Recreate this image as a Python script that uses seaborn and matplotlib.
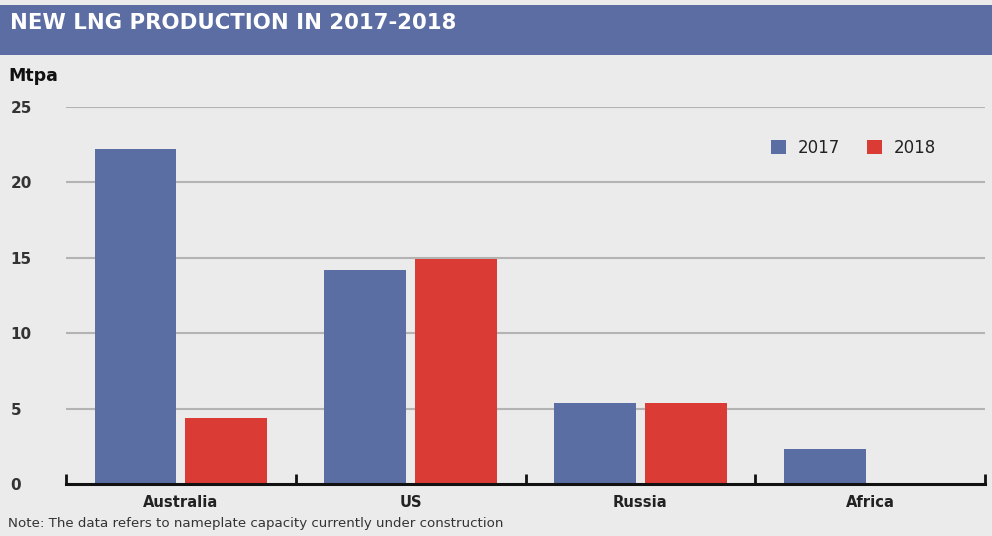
import numpy as np
import pandas as pd
import matplotlib
matplotlib.use("Agg")
import matplotlib.pyplot as plt
import seaborn as sns
from matplotlib.patches import Rectangle

# chart values
regions = ["Australia", "US", "Russia", "Africa"]
years = ["2017", "2018"]
mtpa_2017 = [22.2, 14.2, 5.4, 2.3]
mtpa_2018 = [4.4, 14.9, 5.4, np.nan]
y_ticks = [0, 5, 10, 15, 20, 25]

title = "NEW LNG PRODUCTION IN 2017-2018"
unit = "Mtpa"
note = "Note: The data refers to nameplate capacity currently under construction"

BG = "#ebebeb"
BLUE = "#5a6ea3"
RED = "#db3b35"
BAND = "#5b6da3"
INK = "#222222"

df = pd.DataFrame({
    "region": regions * 2,
    "year": [years[0]] * len(regions) + [years[1]] * len(regions),
    "value": mtpa_2017 + mtpa_2018,
})

sns.set_theme(style="white")
plt.rcParams["font.family"] = ["DejaVu Sans"]

fig = plt.figure(figsize=(9.92, 5.36), dpi=100, facecolor=BG)
ax = fig.add_axes([66 / 992, 1 - 484 / 536, (985 - 66) / 992, (484 - 107) / 536])
ax.set_facecolor(BG)

# title band
fig.add_artist(Rectangle((0, 1 - 55 / 536), 1, 50 / 536, transform=fig.transFigure,
                         facecolor=BAND, edgecolor="none"))
fig.text(10 / 992, 1 - 23 / 536, title, color="white", fontsize=15.3,
         fontweight="heavy", va="center", ha="left")
fig.text(8 / 992, 1 - 76 / 536, unit, color="#111111", fontsize=12.5,
         fontweight="bold", va="center", ha="left")
fig.text(8 / 992, 1 - 524 / 536, note, color="#333333", fontsize=9.6,
         va="center", ha="left")

for y in y_ticks[1:]:
    ax.axhline(y, color="#b3b3b3", lw=1.5, zorder=0)

sns.barplot(data=df, x="region", y="value", hue="year", order=regions,
            hue_order=years, palette=[BLUE, RED], width=0.79, gap=0.1,
            saturation=1, linewidth=0, edgecolor="none", ax=ax, zorder=2)

ax.set_xlim(-0.5, len(regions) - 0.5)
ax.set_ylim(0, 25)
ax.set_xlabel("")
ax.set_ylabel("")

for s in ["top", "right", "left"]:
    ax.spines[s].set_visible(False)
ax.spines["bottom"].set_color("#111111")
ax.spines["bottom"].set_linewidth(2.2)
ax.spines["bottom"].set_zorder(3)

ax.set_yticks(y_ticks)
ax.set_yticklabels([str(t) for t in y_ticks], fontsize=11, fontweight="bold",
                   color="#333333")
for lab in ax.get_yticklabels():
    lab.set_horizontalalignment("left")
ax.tick_params(axis="y", left=False, length=0, pad=40)

ax.set_xticks(range(len(regions)))
ax.set_xticklabels(regions, fontsize=10.6, fontweight="bold", color=INK)
ax.set_xticks(np.arange(-0.5, len(regions)), minor=True)
ax.tick_params(axis="x", which="major", bottom=False, length=0, pad=8)
ax.tick_params(axis="x", which="minor", bottom=True, direction="in", length=7,
               width=2, color="#111111")

leg = ax.legend(loc="upper right", bbox_to_anchor=(0.963, 0.955), ncol=2,
                frameon=False, fontsize=12, handlelength=0.9, handleheight=0.9,
                handletextpad=0.7, columnspacing=1.6)
for t in leg.get_texts():
    t.set_color(INK)

fig.savefig("out.png", dpi=100, facecolor=BG)
